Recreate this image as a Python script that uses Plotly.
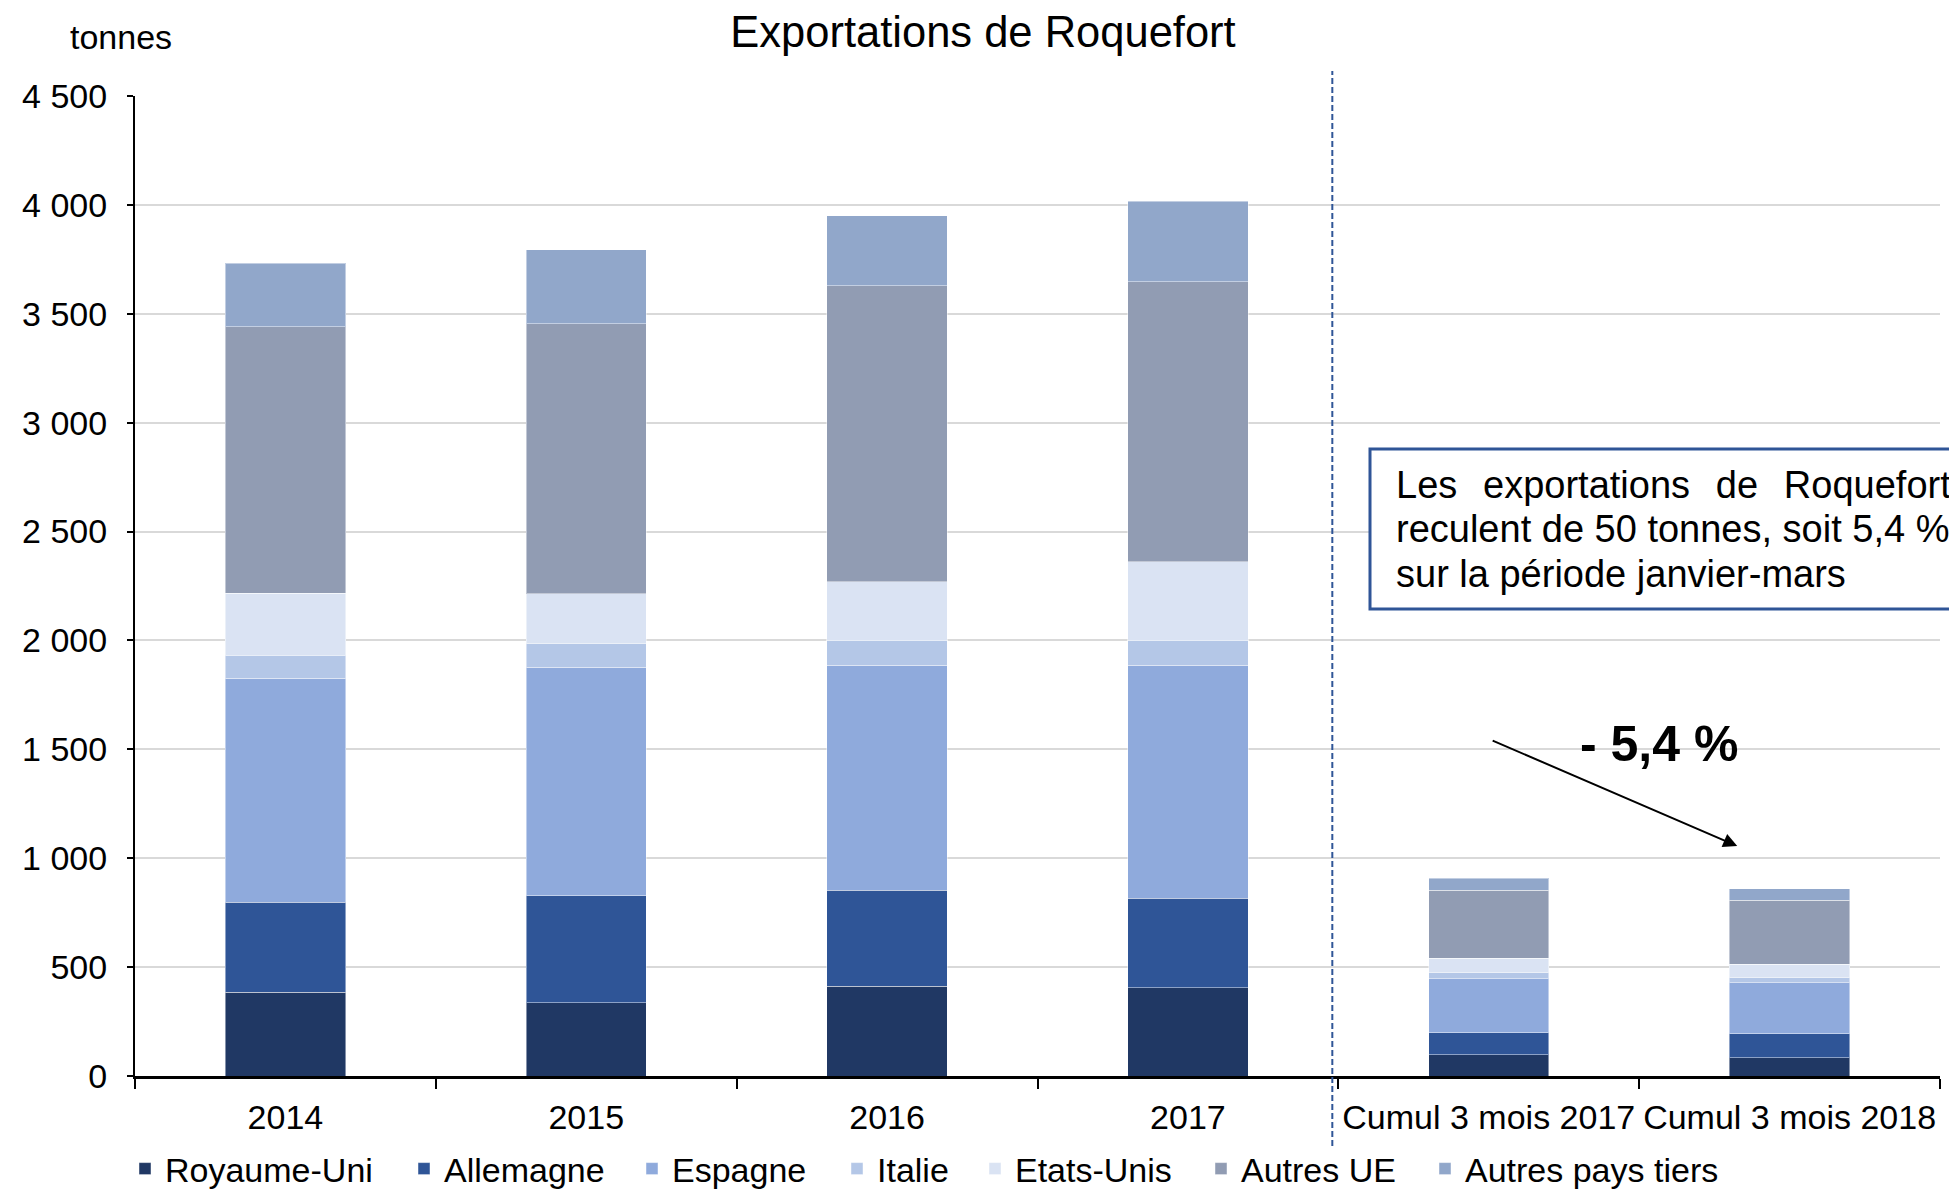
import plotly.graph_objects as go

# Exportations de Roquefort (tonnes)
categories = ["2014", "2015", "2016", "2017", "Cumul 3 mois 2017", "Cumul 3 mois 2018"]

royaume_uni = [385, 336, 413, 406, 97, 84]
allemagne = [413, 492, 441, 411, 101, 111]
espagne = [1028, 1048, 1032, 1070, 248, 233]
italie = [107, 109, 115, 113, 28, 23]
etats_unis = [283, 229, 269, 361, 66, 63]
autres_ue = [1224, 1241, 1359, 1286, 314, 294]
autres_pays_tiers = [292, 339, 321, 369, 54, 51]

series = [
    ("Royaume-Uni", royaume_uni, "#203864"),
    ("Allemagne", allemagne, "#2F5597"),
    ("Espagne", espagne, "#8FAADC"),
    ("Italie", italie, "#B4C7E7"),
    ("Etats-Unis", etats_unis, "#DAE3F3"),
    ("Autres UE", autres_ue, "#919CB3"),
    ("Autres pays tiers", autres_pays_tiers, "#91A7CA"),
]

FONT = "Liberation Sans, Arial, sans-serif"

# the page body has an 8px margin, so the figure is drawn 8px in from the corner
OFF = 8
W, H = 1957 - OFF, 1191 - OFF
# plot area on screen
SL, ST, SR, SB = 135, 96, 1940, 1076
PW, PH = SR - SL, SB - ST


def px(x):
    return (x - SL) / PW


def py(y):
    return (SB - y) / PH


# centre of each legend marker on screen
legend_px = [145, 424, 652, 857, 995, 1221, 1445]

fig = go.Figure()

for i, (name, vals, color) in enumerate(series):
    leg = "legend" if i == 0 else f"legend{i + 1}"
    fig.add_trace(go.Bar(
        x=categories,
        y=vals,
        name=name,
        marker=dict(color=color, line=dict(color="rgba(255,255,255,0.45)", width=1)),
        legend=leg,
    ))
    fig.update_layout({
        leg: dict(
            x=px(legend_px[i] - 20),
            y=py(1169),
            xanchor="left",
            yanchor="middle",
            orientation="h",
            bgcolor="rgba(0,0,0,0)",
            font=dict(family=FONT, size=34, color="black"),
        )
    })

# vertical dashed separator
fig.add_shape(
    type="line", xref="x", yref="paper",
    x0=3.48, x1=3.48, y0=py(1146), y1=py(71),
    line=dict(color="#2F5597", width=2, dash="6px,3px"),
)

# text box
fig.add_shape(
    type="rect", xref="paper", yref="paper",
    x0=px(1370), x1=1.03, y0=py(609), y1=py(449),
    line=dict(color="#2F5597", width=3), fillcolor="white",
)

sp = "\u00a0\u2009\u2009"
box_lines = [
    f"Les{sp}exportations{sp}de{sp}Roquefort",
    "reculent de 50 tonnes, soit 5,4 %",
    "sur la période janvier-mars",
]
for txt, ypx in zip(box_lines, [485, 529, 574]):
    fig.add_annotation(
        text=txt, xref="paper", yref="paper",
        x=px(1394), y=py(ypx),
        xanchor="left", yanchor="middle", showarrow=False,
        font=dict(family=FONT, size=38, color="black"),
    )

# arrow and variation label
fig.add_annotation(
    x=4.826, y=1056, ax=4.008, ay=1543,
    xref="x", yref="y", axref="x", ayref="y",
    text="", showarrow=True, arrowhead=2, arrowsize=1.4,
    arrowwidth=2, arrowcolor="black",
)
fig.add_annotation(
    text="<b>- 5,4 %</b>", x=4.566, y=1524, xref="x", yref="y",
    showarrow=False, font=dict(family=FONT, size=50, color="black"),
)

# unit label
fig.add_annotation(
    text="tonnes", xref="paper", yref="paper",
    x=px(121), y=py(37),
    xanchor="center", yanchor="middle", showarrow=False,
    font=dict(family=FONT, size=34, color="black"),
)

fig.update_layout(
    barmode="stack",
    bargap=0.6,
    width=W,
    height=H,
    margin=dict(l=SL - OFF, r=W - (SR - OFF), t=ST - OFF, b=H - (SB - OFF), autoexpand=False),
    paper_bgcolor="white",
    plot_bgcolor="white",
    separators=", ",
    showlegend=True,
    title=dict(
        text="Exportations de Roquefort",
        x=(983 - OFF) / W, xanchor="center",
        y=1 - (32 - OFF) / H, yanchor="middle", yref="container",
        font=dict(family=FONT, size=43.5, color="black"),
    ),
    font=dict(family=FONT, size=34, color="black"),
    xaxis=dict(
        type="category",
        automargin=False,
        tickangle=0,
        showline=True, linecolor="black", linewidth=3,
        ticks="outside", tickson="boundaries", ticklen=10, tickwidth=2, tickcolor="black",
        ticklabelstandoff=9,
        tickfont=dict(family=FONT, size=34, color="black"),
        showgrid=False,
    ),
    yaxis=dict(
        range=[0, 4500],
        dtick=500,
        automargin=False,
        separatethousands=True,
        showline=True, linecolor="black", linewidth=2,
        ticks="outside", ticklen=6, tickwidth=2, tickcolor="black",
        ticklabelstandoff=13,
        tickfont=dict(family=FONT, size=34, color="black"),
        showgrid=True, gridcolor="#D9D9D9", gridwidth=2,
        zeroline=False,
    ),
)

fig.write_html("out.html")
